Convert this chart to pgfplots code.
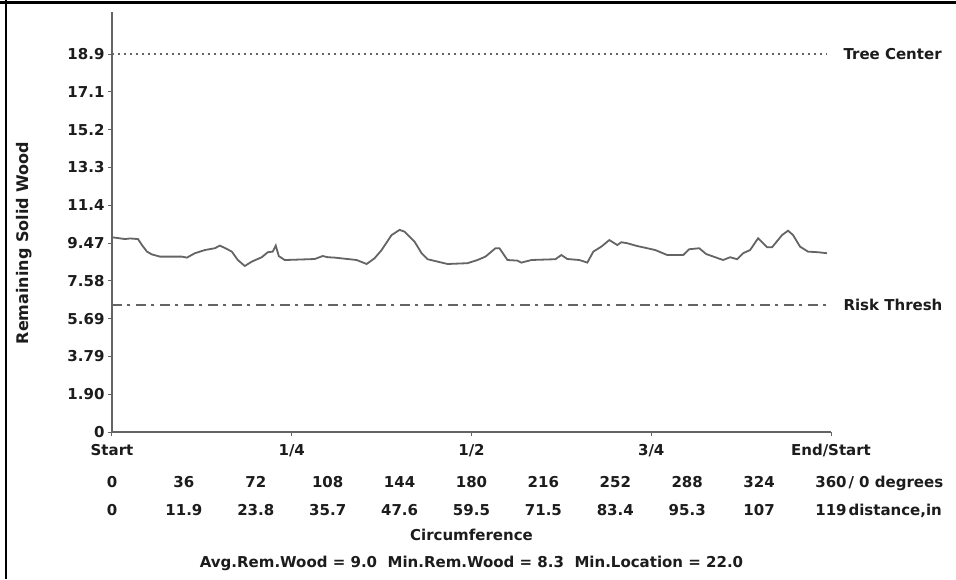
\documentclass[border=0pt]{standalone}
\usepackage{fontspec}
\setmainfont{DejaVu Sans}
\usepackage{pgfplots}
\pgfplotsset{compat=1.18}
\definecolor{ink}{RGB}{28,28,28}
\definecolor{linegray}{RGB}{100,100,100}
\newcommand{\lab}{\fontsize{15}{18}\selectfont\bfseries}
\begin{document}
\begin{tikzpicture}[x=1pt,y=1pt]
\useasboundingbox (-112,-147) rectangle (844,432);
\fill[white] (-112,-147) rectangle (844,432);
\draw[black, line width=3pt] (-112,429) -- (844,429);
\draw[black, line width=2.5pt] (-106,432) -- (-106,-147);
\begin{axis}[
  scale only axis, width=719pt, height=420pt,
  xmin=0, xmax=360, ymin=0, ymax=21.05,
  axis x line*=bottom, axis y line*=left,
  axis line style={linegray, line width=1.6pt, -},
  clip=false,
  tick align=outside, major tick length=4pt,
  tick style={linegray, line width=1pt},
  xtick={0,90,180,270,360},
  xticklabels={Start,1/4,1/2,3/4,End/Start},
  xticklabel style={yshift=-5pt},
  ytick={0,1.894,3.788,5.682,7.576,9.47,11.364,13.258,15.152,17.046,18.94},
  yticklabels={0,1.90,3.79,5.69,7.58,9.47,11.4,13.3,15.2,17.1,18.9},
  ticklabel style={font=\lab, text=ink},
  extra x ticks={0,36,72,108,144,180,216,252,288,324,360},
  extra x tick labels={{\strut0\\\strut0},{\strut36\\\strut11.9},{\strut72\\\strut23.8},{\strut108\\\strut35.7},{\strut144\\\strut47.6},{\strut180\\\strut59.5},{\strut216\\\strut71.5},{\strut252\\\strut83.4},{\strut288\\\strut95.3},{\strut324\\\strut107},{\strut360\\\strut119}},
  extra x tick style={major tick length=0pt,
    xticklabel style={align=center, font=\fontsize{15}{28}\selectfont\bfseries, yshift=-27pt}},
  xlabel={Circumference},
  xlabel style={at={(axis description cs:0.5,0)}, anchor=center, yshift=-103pt,
    font=\lab, text=ink},
  ylabel={Remaining Solid Wood},
  ylabel style={at={(axis description cs:-0.1224,0.45)}, anchor=center,
    font=\fontsize{16}{18}\selectfont\bfseries, text=ink},
]
\addplot[linegray, line width=1.6pt, dash pattern=on 1.6pt off 4.4pt] coordinates {(0,18.94) (358,18.94)};
\addplot[linegray, line width=2pt, dash pattern=on 10pt off 5pt on 3pt off 6pt] coordinates {(0,6.37) (358,6.37)};
\addplot[linegray, line width=1.8pt] coordinates {
(0,9.76) (3,9.72) (6.5,9.67) (9,9.70) (13,9.67) (15,9.37) (17.5,9.04) (20,8.90)
(24,8.79) (35,8.79) (37.5,8.74) (41.5,8.96) (46.5,9.12) (51.5,9.21) (54,9.34)
(57,9.20) (60,9.04) (63,8.62) (66.5,8.32) (70,8.54) (75,8.76) (78,9.01) (80.5,9.04)
(82,9.34) (83.5,8.82) (86.5,8.62) (90,8.63) (101.5,8.67) (105.5,8.82) (108,8.76)
(111.5,8.74) (122.5,8.62) (127.5,8.42) (131.5,8.71) (135,9.12) (140,9.87) (144,10.13)
(146.5,10.04) (151.5,9.54) (155,8.96) (158,8.66) (163,8.54) (168,8.42) (178,8.46)
(183,8.62) (187,8.79) (192,9.21) (194,9.21) (198,8.62) (203,8.59) (205,8.49) (210,8.62)
(222,8.66) (225,8.87) (228,8.67) (234,8.62) (238,8.49) (241,9.04) (245,9.29) (249,9.62)
(253,9.37) (255,9.51) (258,9.46) (263,9.32) (268,9.21) (272,9.12) (278,8.87) (286,8.87)
(289,9.16) (294,9.21) (297.5,8.92) (302,8.76) (306,8.62) (309.5,8.76) (313,8.66)
(316,8.96) (319.5,9.12) (323.5,9.71) (328,9.26) (330.5,9.26) (335.5,9.87) (338.5,10.09)
(341,9.87) (344.5,9.29) (348.5,9.04) (353.5,9.01) (358,8.96)};
\node[anchor=west, text=ink, font=\lab, xshift=9pt] at (axis cs:360,18.94) {Tree Center};
\node[anchor=west, text=ink, font=\lab, xshift=9pt] at (axis cs:360,6.37) {Risk Thresh};
\node[anchor=west, text=ink, font=\lab, xshift=14pt, yshift=-51pt] at (axis cs:360,0) {/ 0 degrees};
\node[anchor=west, text=ink, font=\lab, xshift=14pt, yshift=-79pt] at (axis cs:360,0) {distance,in};
\node[anchor=center, text=ink, font=\lab, yshift=-131pt] at (axis description cs:0.5,0) {Avg.Rem.Wood = 9.0\ \ Min.Rem.Wood = 8.3\ \ Min.Location = 22.0};
\end{axis}
\end{tikzpicture}
\end{document}
